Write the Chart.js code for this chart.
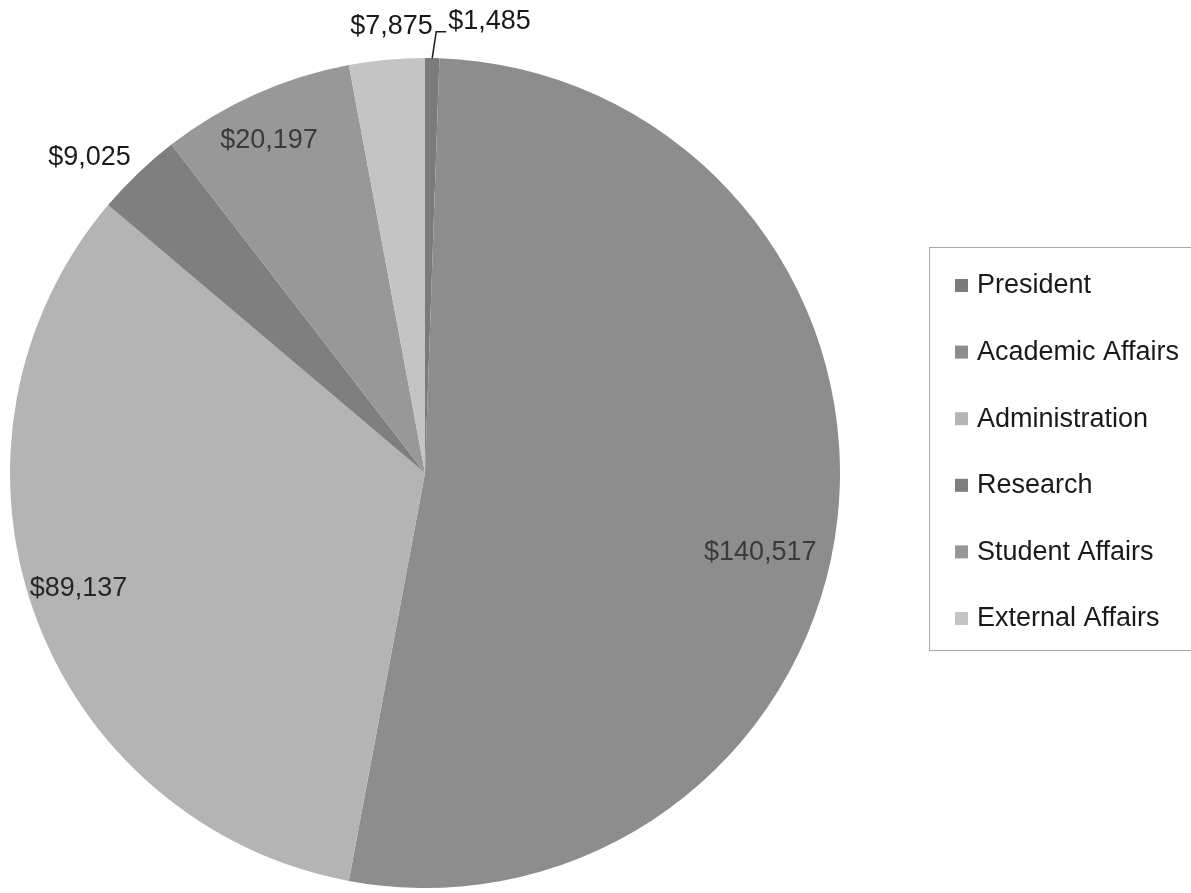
<!DOCTYPE html>
<html>
<head>
<meta charset="utf-8">
<script src="https://cdn.jsdelivr.net/npm/chart.js@4/dist/chart.umd.min.js"></script>
<style>
  html, body { margin: 0; padding: 0; background: #fff; }
  #wrap { width: 1191px; height: 893px; position: relative; }
</style>
</head>
<body>
<div id="wrap"><canvas id="myChart"></canvas></div>
<script>
// data
var categories = ["President", "Academic Affairs", "Administration", "Research", "Student Affairs", "External Affairs"];
var amounts = [1485, 140517, 89137, 9025, 20197, 7875];
var sliceColors = ['#7b7b7b', '#8d8d8d', '#b4b4b4', '#7f7f7f', '#989898', '#c4c4c4'];

// where each value label goes: fraction of radius, and angle nudge in degrees
var labelRadius = [1.063, 0.83, 0.88, 1.11, 0.885, 1.08];
var labelShift = [0, 7, 1.2, -3, -1, 1];
var labelColors = ['#1a1a1a', '#3a3a3a', '#262626', '#1a1a1a', '#3a3a3a', '#1a1a1a'];

var FONT = '27px "Liberation Sans", Arial, sans-serif';

function money(v) {
  return '$' + v.toLocaleString('en-US');
}

// value labels (+ leader line for the tiny slice)
var valueLabels = {
  id: 'valueLabels',
  afterDatasetsDraw: function(chart) {
    var ctx = chart.ctx;
    var arcs = chart.getDatasetMeta(0).data;
    ctx.save();
    ctx.font = FONT;
    arcs.forEach(function(arc, i) {
      var p = arc.getProps(['x', 'y', 'startAngle', 'endAngle', 'outerRadius'], true);
      var mid = (p.startAngle + p.endAngle) / 2;
      var a = mid + labelShift[i] * Math.PI / 180;
      var r = p.outerRadius * labelRadius[i];
      ctx.fillStyle = labelColors[i];
      if (i === 0) {
        // leader line
        var ex = p.x + Math.cos(mid) * p.outerRadius;
        var ey = p.y + Math.sin(mid) * p.outerRadius;
        var ky = p.y - r;
        var kx = ex + 4;
        ctx.strokeStyle = '#1a1a1a';
        ctx.lineWidth = 1.5;
        ctx.beginPath();
        ctx.moveTo(ex, ey);
        ctx.lineTo(kx, ky);
        ctx.lineTo(kx + 10, ky);
        ctx.stroke();
        ctx.textAlign = 'left';
        ctx.textBaseline = 'middle';
        ctx.fillText(money(amounts[i]), kx + 12, ky - 10);
      } else {
        ctx.textAlign = 'center';
        ctx.textBaseline = 'middle';
        ctx.fillText(money(amounts[i]), p.x + Math.cos(a) * r, p.y + Math.sin(a) * r);
      }
    });
    ctx.restore();
  }
};

// boxed legend on the right
var boxLegend = {
  id: 'boxLegend',
  afterDraw: function(chart) {
    var ctx = chart.ctx;
    ctx.save();
    ctx.strokeStyle = '#a8a8a8';
    ctx.lineWidth = 1;
    ctx.strokeRect(929.5, 247.5, 300, 403);
    ctx.font = FONT;
    ctx.textAlign = 'left';
    ctx.textBaseline = 'middle';
    chart.data.labels.forEach(function(lab, i) {
      var y = 285 + i * 66.6;
      ctx.fillStyle = sliceColors[i];
      ctx.fillRect(955, y - 6, 13, 13);
      ctx.fillStyle = '#1a1a1a';
      ctx.fillText(lab, 977, y + 1);
    });
    ctx.restore();
  }
};

var ctx = document.getElementById('myChart').getContext('2d');
var myPieChart = new Chart(ctx, {
  type: 'pie',
  data: {
    labels: categories,
    datasets: [{
      label: 'Budget',
      data: amounts,
      backgroundColor: sliceColors,
      borderWidth: 0
    }]
  },
  options: {
    responsive: true,
    maintainAspectRatio: false,
    animation: false,
    layout: {
      padding: { left: 10, top: 58, right: 351, bottom: 5 }
    },
    plugins: {
      legend: { display: false },
      tooltip: { enabled: false }
    }
  },
  plugins: [valueLabels, boxLegend]
});
</script>
</body>
</html>
